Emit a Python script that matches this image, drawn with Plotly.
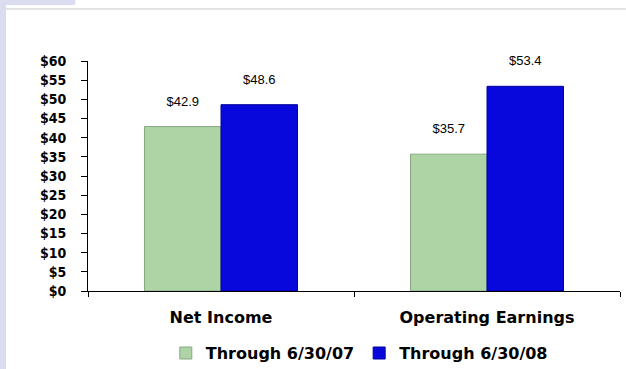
import plotly.graph_objects as go

categories = ["Net Income", "Operating Earnings"]
series_names = ["Through 6/30/07", "Through 6/30/08"]
values_07 = [42.9, 35.7]
values_08 = [48.6, 53.4]
y_ticks = list(range(0, 61, 5))
y_tick_labels = [f"${v}" for v in y_ticks]

colors = ["#aed4a6", "#0808dc"]
line_colors = ["#88a882", "#00009a"]

COND = "DejaVu Sans Condensed, DejaVu Sans"
WIDE = "DejaVu Sans, Verdana"

fig = go.Figure()
for name, vals, c, lc in zip(series_names, [values_07, values_08], colors, line_colors):
    fig.add_trace(go.Bar(
        x=categories, y=vals, name=name,
        marker=dict(color=c, line=dict(color=lc, width=1)),
        text=[f"${v:.1f}<br><span style='font-size:4px'> </span>" for v in vals],
        textposition="outside",
        textfont=dict(family="Liberation Sans, Arial", size=13, color="black"),
        cliponaxis=False,
    ))

fig.update_layout(
    width=626, height=369,
    margin=dict(l=88, r=6, t=61, b=78, autoexpand=False),
    paper_bgcolor="white",
    plot_bgcolor="white",
    barmode="group",
    bargap=0.425,
    bargroupgap=0,
    showlegend=True,
    legend=dict(
        orientation="h", x=0.51, xanchor="center", y=-0.27, yanchor="middle",
        font=dict(family=WIDE, size=16, color="black", weight="bold"),
        bgcolor="rgba(0,0,0,0)", itemwidth=30, tracegroupgap=0,
    ),
    shapes=[
        dict(type="rect", xref="paper", yref="paper", x0=-0.1654, x1=-0.154, y0=-0.339, y1=1.265,
             fillcolor="#dcdcf0", line=dict(width=0), layer="below"),
        dict(type="rect", xref="paper", yref="paper", x0=-0.1654, x1=-0.024, y0=1.243, y1=1.265,
             fillcolor="#dcdcf0", line=dict(width=0), layer="below"),
        dict(type="line", xref="paper", yref="paper", x0=-0.154, x1=1.011, y0=1.226, y1=1.226,
             line=dict(color="#e2e2e2", width=2), layer="below"),
    ],
)
fig.update_yaxes(
    range=[0, 60], tickmode="array", tickvals=y_ticks, ticktext=y_tick_labels,
    showgrid=False, zeroline=False, showline=True, linecolor="black", linewidth=1,
    ticks="outside", ticklen=6, tickcolor="black", ticklabelstandoff=12, automargin=False,
    tickfont=dict(family=COND, size=14, color="black", weight="bold"),
)
fig.update_xaxes(
    showline=True, linecolor="black", linewidth=1, showgrid=False,
    ticks="outside", tickson="boundaries", ticklen=5, tickcolor="black",
    ticklabelstandoff=12, automargin=False,
    tickfont=dict(family=WIDE, size=16, color="black", weight="bold"),
)
fig.write_html("out.html")
